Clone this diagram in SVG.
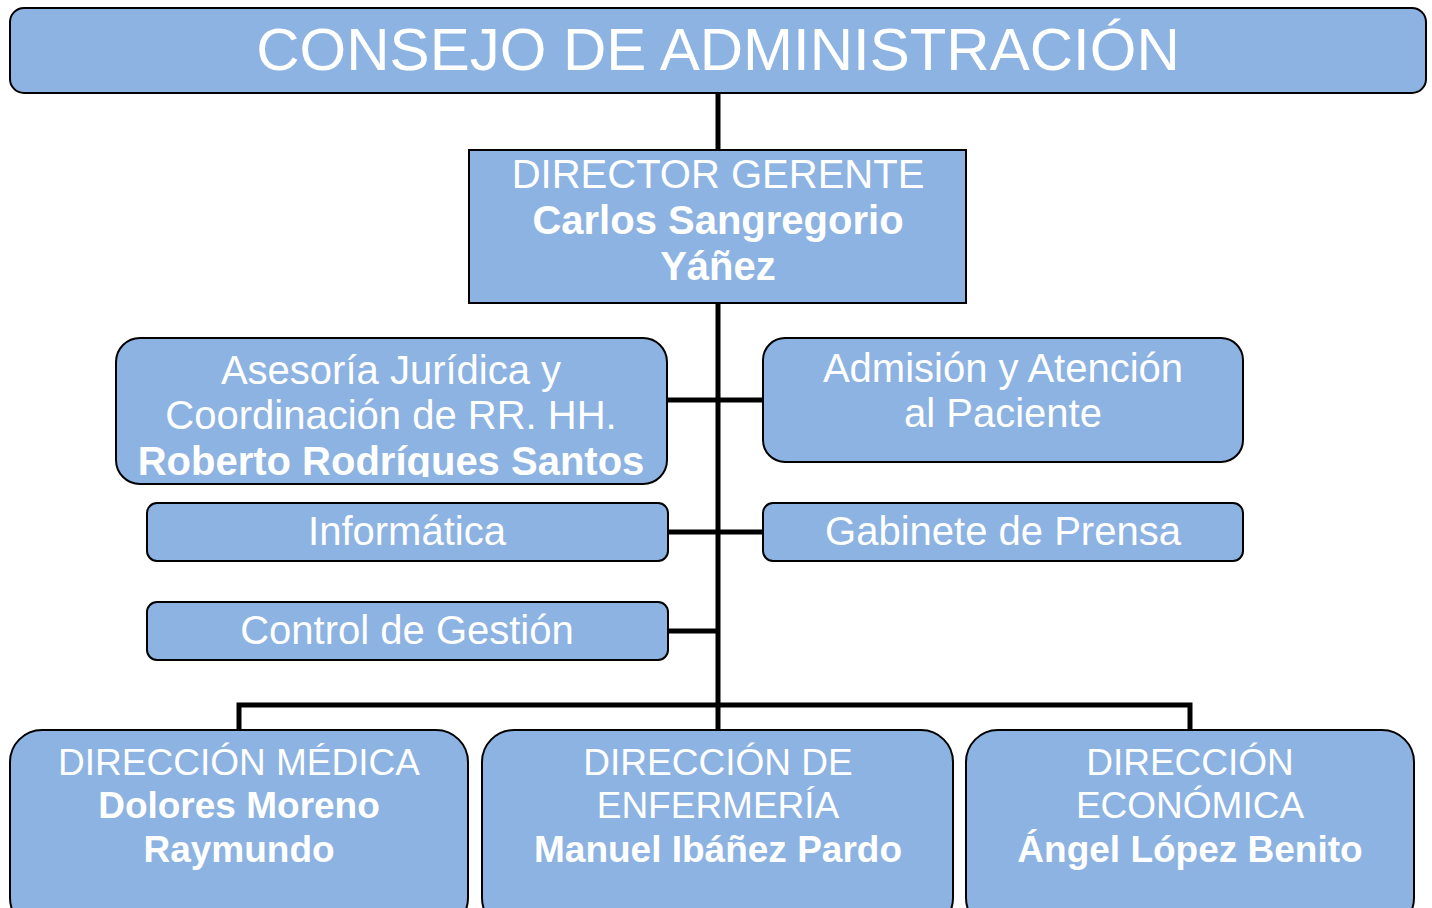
<svg xmlns="http://www.w3.org/2000/svg" width="1432" height="908" viewBox="0 0 1432 908">
<style>
.box{fill:#8DB3E2;stroke:#000;stroke-width:2}
.t{font-family:"Liberation Sans",Arial,sans-serif;fill:#fff;text-anchor:middle}
.b{font-weight:bold}
.m{font-size:40px}
.s{font-size:37px}
.c{fill:none;stroke:#000;stroke-width:5}
</style>
<defs>
<clipPath id="clipA"><rect x="116" y="338" width="551" height="139"/></clipPath>
</defs>
<rect width="1432" height="908" fill="#fff"/>
<g id="connectors">
<path class="c" d="M718 93V150M718 303V705M667 400H763M668 532H763M668 631H718M239 730V705H1190V730M718 705V730"/>
</g>
<g id="consejo">
<rect class="box" x="10" y="8" width="1416" height="85" rx="14"/>
<text class="t" x="718" y="70" font-size="60">CONSEJO DE ADMINISTRACIÓN</text>
</g>
<g id="director">
<rect class="box" x="469" y="150" width="497" height="153"/>
<text class="t m" x="718" y="188">DIRECTOR GERENTE</text>
<text class="t b m" x="718" y="234">Carlos Sangregorio</text>
<text class="t b m" x="718" y="280">Yáñez</text>
</g>
<g id="asesoria">
<rect class="box" x="116" y="338" width="551" height="146" rx="24"/>
<text class="t m" x="391" y="384">Asesoría Jurídica y</text>
<text class="t m" x="391" y="429">Coordinación de RR. HH.</text>
<text class="t b m" x="391" y="475" clip-path="url(#clipA)">Roberto Rodríques Santos</text>
</g>
<g id="admision">
<rect class="box" x="763" y="338" width="480" height="124" rx="22"/>
<text class="t m" x="1003" y="382">Admisión y Atención</text>
<text class="t m" x="1003" y="427">al Paciente</text>
</g>
<g id="informatica">
<rect class="box" x="147" y="503" width="521" height="58" rx="10"/>
<text class="t m" x="407" y="545">Informática</text>
</g>
<g id="gabinete">
<rect class="box" x="763" y="503" width="480" height="58" rx="10"/>
<text class="t m" x="1003" y="545">Gabinete de Prensa</text>
</g>
<g id="control">
<rect class="box" x="147" y="602" width="521" height="58" rx="10"/>
<text class="t m" x="407" y="644">Control de Gestión</text>
</g>
<g id="medica">
<rect class="box" x="10" y="730" width="458" height="200" rx="32"/>
<text class="t s" x="239" y="775">DIRECCIÓN MÉDICA</text>
<text class="t b s" x="239" y="818">Dolores Moreno</text>
<text class="t b s" x="239" y="862">Raymundo</text>
</g>
<g id="enfermeria">
<rect class="box" x="482" y="730" width="471" height="200" rx="32"/>
<text class="t s" x="718" y="775">DIRECCIÓN DE</text>
<text class="t s" x="718" y="818">ENFERMERÍA</text>
<text class="t b s" x="718" y="862">Manuel Ibáñez Pardo</text>
</g>
<g id="economica">
<rect class="box" x="966" y="730" width="448" height="200" rx="32"/>
<text class="t s" x="1190" y="775">DIRECCIÓN</text>
<text class="t s" x="1190" y="818">ECONÓMICA</text>
<text class="t b s" x="1190" y="862">Ángel López Benito</text>
</g>
</svg>
